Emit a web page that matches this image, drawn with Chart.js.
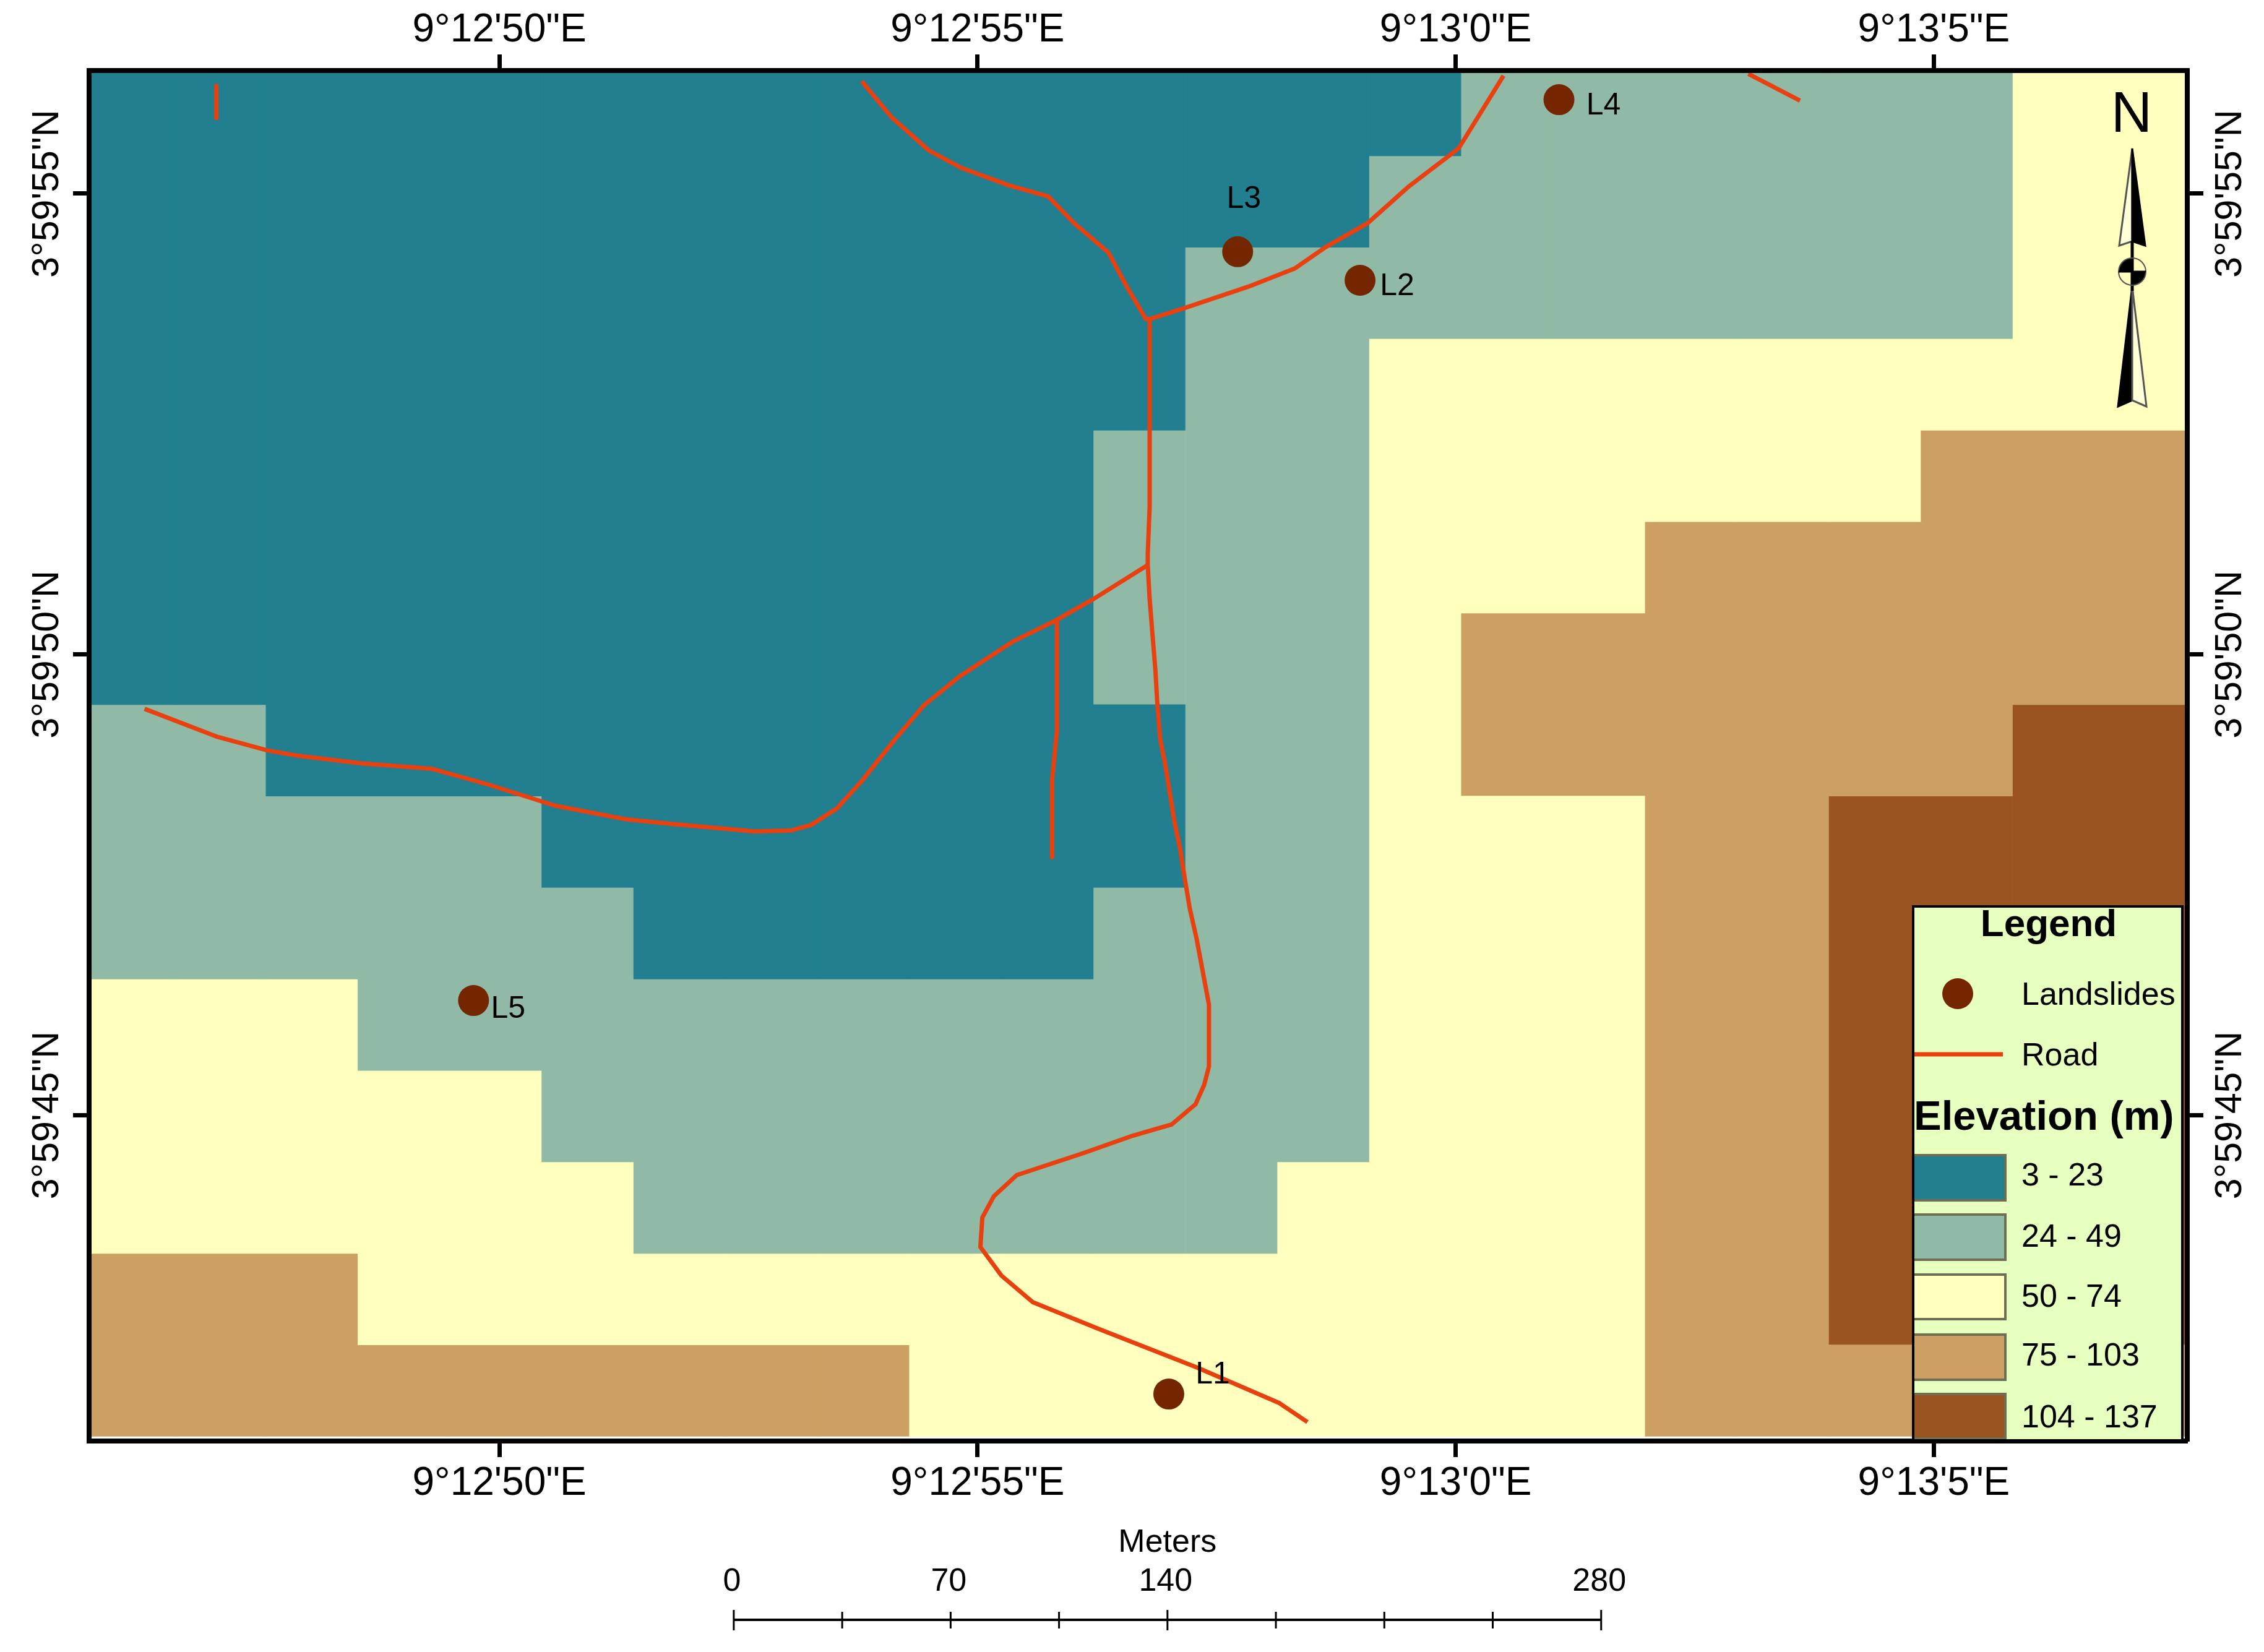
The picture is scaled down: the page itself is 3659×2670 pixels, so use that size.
<!DOCTYPE html>
<html>
<head>
<meta charset="utf-8">
<title>Elevation map</title>
<script src="https://cdn.jsdelivr.net/npm/chart.js@4/dist/chart.umd.min.js"></script>
<style>
html, body { margin: 0; padding: 0; background: #fff; }
canvas { display: block; }
</style>
</head>
<body>
<canvas id="myChart" width="3659" height="2670"></canvas>
<script>
// axis ticks, seconds of the minute
const lonTicks = [50, 55, 60, 65];
const lonLabels = ['9°12\'50"E', '9°12\'55"E', '9°13\'0"E', '9°13\'5"E'];
const latTicks = [55, 50, 45];
const latLabels = ['3°59\'55"N', '3°59\'50"N', '3°59\'45"N'];

// elevation classes
const classLabels = ['3 - 23', '24 - 49', '50 - 74', '75 - 103', '104 - 137'];
const classColors = ['#217F90', '#91BAA6', '#FFFFBE', '#CC9F62', '#995420'];

// raster cells, north to south, one digit = class index
const elevationRows = [
    '00000000000000011111122',
    '00000000000000111111122',
    '00000000000011111111122',
    '00000000000011222222222',
    '00000000000111222222333',
    '00000000000111222333333',
    '00000000000111233333333',
    '11000000000011233333344',
    '11111000000011222334444',
    '11111100000111222334444',
    '22211111111111222334444',
    '22222111111111222334444',
    '22222211111112222334444',
    '33322222222222222334444',
    '33333333322222222333333'
];
const cellLon0 = 45.637;
const cellLonSize = 0.9612;
const cellLat0 = 56.403;
const cellLatSize = 0.9925;

// roads as [lon, lat]
const roadMain = [[56.80,53.64],[56.80,51.60],[56.78,51.09],[56.78,50.97],[56.80,50.60],[56.83,50.21],[56.86,49.83],[56.88,49.47],[56.91,49.08],[56.96,48.82],[57.01,48.50],[57.06,48.18],[57.12,47.88],[57.17,47.55],[57.22,47.24],[57.29,46.92],[57.42,46.20],[57.42,45.53],[57.37,45.33],[57.28,45.12],[57.03,44.90],[56.60,44.77],[56.11,44.59],[55.41,44.35],[55.17,44.12],[55.05,43.89],[55.03,43.57],[55.25,43.26],[55.58,42.97],[56.27,42.68],[57.30,42.26],[58.15,41.88],[58.45,41.67]];
const roadNorthWest = [[53.79,56.22],[54.10,55.83],[54.49,55.47],[54.83,55.28],[55.33,55.09],[55.74,54.97],[56.01,54.68],[56.37,54.36],[56.55,54.01],[56.76,53.64],[56.80,53.64]];
const roadNorthEast = [[56.80,53.64],[57.17,53.76],[57.83,53.99],[58.32,54.19],[58.64,54.42],[59.08,54.68],[59.50,55.07],[60.03,55.49],[60.50,56.28]];
const roadCorner = [[63.06,56.30],[63.60,56.01]];
const roadStub = [[47.04,56.17],[47.04,55.82]];
const roadWest = [[56.78,50.97],[56.21,50.60],[55.80,50.36],[55.37,50.14],[55.06,49.93],[54.81,49.76],[54.44,49.45],[54.13,49.07],[53.80,48.64],[53.53,48.33],[53.26,48.15],[53.05,48.09],[52.67,48.08],[51.81,48.16],[51.33,48.21],[50.58,48.36],[49.88,48.59],[49.29,48.76],[48.54,48.82],[47.90,48.90],[47.57,48.96],[47.04,49.11],[46.29,49.41]];
const roadSpur = [[55.83,50.36],[55.83,49.17],[55.78,48.64],[55.78,47.80]];
const allRoads = [roadMain, roadNorthWest, roadNorthEast, roadCorner, roadStub, roadWest, roadSpur];

// landslides
const slideNames = ['L1', 'L2', 'L3', 'L4', 'L5'];
const slideLon = [57.00, 59.00, 57.72, 61.08, 49.73];
const slideLat = [41.975, 54.06, 54.37, 56.02, 46.245];

// scale bar
const barTicks = [0, 35, 70, 105, 140, 175, 210, 245, 280];
const barLabels = [0, 70, 140, 280];

const ROAD_COLOR = '#E8400F';
const POINT_COLOR = '#732600';
const FONT = '"Liberation Sans"';

function cellDatasets() {
    return classColors.map((color, cls) => {
        const data = [];
        for (let col = 0; col < elevationRows[0].length; col++) {
            let row = 0;
            while (row < elevationRows.length) {
                if (Number(elevationRows[row][col]) !== cls) { row++; continue; }
                let end = row;
                while (end + 1 < elevationRows.length && Number(elevationRows[end + 1][col]) === cls) end++;
                data.push({
                    x: cellLon0 + (col + 0.5) * cellLonSize,
                    y: [cellLat0 - (end + 1) * cellLatSize, cellLat0 - row * cellLatSize]
                });
                row = end + 1;
            }
        }
        return {
            type: 'bar', label: classLabels[cls], data: data, backgroundColor: color,
            grouped: false, barPercentage: 1, categoryPercentage: 1, order: 5
        };
    });
}

function roadDatasets() {
    return allRoads.map(road => ({
        type: 'line', label: 'Road', data: road.map(p => ({ x: p[0], y: p[1] })),
        borderColor: ROAD_COLOR, borderWidth: 7, pointRadius: 0, tension: 0, fill: false,
        borderJoinStyle: 'round', order: 3
    }));
}

const slideDataset = {
    type: 'line', label: 'Landslides', data: slideLon.map((lon, i) => ({ x: lon, y: slideLat[i] })),
    showLine: false, pointRadius: 25, pointBackgroundColor: POINT_COLOR, pointBorderWidth: 0, order: 1
};

function axisX(position, height, padding) {
    return {
        type: 'linear', position: position, min: 45.71, max: 67.65, offset: false,
        afterBuildTicks: s => { s.ticks = lonTicks.map(v => ({ value: v })); },
        afterFit: s => { s.height = height; },
        border: { display: true, color: '#000', width: 8, z: 1 },
        grid: { offset: false, drawOnChartArea: false, color: '#000', tickColor: '#000', tickWidth: 7, tickLength: 26 },
        ticks: {
            color: '#000', autoSkip: false, maxRotation: 0, padding: padding,
            font: { family: FONT, size: 64 },
            callback: (v, i) => lonLabels[i]
        }
    };
}

function axisY(position, width, padding) {
    return {
        type: 'linear', position: position, min: 41.465, max: 56.336,
        afterBuildTicks: s => { s.ticks = latTicks.map(v => ({ value: v })); },
        afterFit: s => { s.width = width; },
        border: { display: true, color: '#000', width: 8, z: 1 },
        grid: { drawOnChartArea: false, color: '#000', tickColor: '#000', tickWidth: 7, tickLength: 26 },
        ticks: {
            color: '#000', autoSkip: false, minRotation: 90, maxRotation: 90, crossAlign: 'center', padding: padding,
            font: { family: FONT, size: 61 },
            callback: (v, i) => latLabels[i]
        }
    };
}

function text(ctx, str, x, y, font, align, baseline) {
    ctx.font = font;
    ctx.textAlign = align || 'left';
    ctx.textBaseline = baseline || 'alphabetic';
    ctx.fillStyle = '#000';
    ctx.fillText(str, x, y);
}

function poly(ctx, pts, fill, stroke) {
    ctx.beginPath();
    pts.forEach((p, i) => i ? ctx.lineTo(p[0], p[1]) : ctx.moveTo(p[0], p[1]));
    ctx.closePath();
    if (fill) { ctx.fillStyle = fill; ctx.fill(); }
    if (stroke) { ctx.strokeStyle = stroke; ctx.lineWidth = 3; ctx.stroke(); }
}

// labels next to the landslide points
const slideLabelPlugin = {
    id: 'slideLabels',
    afterDatasetsDraw(chart) {
        const ctx = chart.ctx;
        const offsets = [[71, -31], [60, 10], [10, -85], [72, 10], [56, 14]];
        const pts = chart.getDatasetMeta(chart.data.datasets.indexOf(slideDataset)).data;
        ctx.save();
        pts.forEach((p, i) => {
            text(ctx, slideNames[i], p.x + offsets[i][0], p.y + offsets[i][1], '50px ' + FONT, 'center', 'middle');
        });
        ctx.restore();
    }
};

const northArrowPlugin = {
    id: 'northArrow',
    afterDraw(chart) {
        const ctx = chart.ctx;
        const cx = 3446;
        ctx.save();
        text(ctx, 'N', cx - 1, 213, '92px ' + FONT, 'center');
        poly(ctx, [[cx, 240], [cx - 21, 397], [cx, 390]], '#FFFFD8', '#555');
        poly(ctx, [[cx, 240], [cx + 21, 397], [cx, 390]], '#000', '#000');
        poly(ctx, [[cx, 463], [cx - 23, 657], [cx, 647]], '#000', '#000');
        poly(ctx, [[cx, 463], [cx + 23, 657], [cx, 647]], '#FFFFD8', '#555');
        ctx.strokeStyle = '#000';
        ctx.lineWidth = 5;
        ctx.beginPath();
        ctx.moveTo(cx, 390);
        ctx.lineTo(cx, 470);
        ctx.stroke();
        ctx.fillStyle = '#000';
        ctx.beginPath();
        ctx.moveTo(cx, 439);
        ctx.arc(cx, 439, 22, Math.PI, Math.PI * 1.5);
        ctx.closePath();
        ctx.fill();
        ctx.beginPath();
        ctx.moveTo(cx, 439);
        ctx.arc(cx, 439, 22, 0, Math.PI * 0.5);
        ctx.closePath();
        ctx.fill();
        ctx.lineWidth = 2;
        ctx.strokeStyle = '#555';
        ctx.beginPath();
        ctx.arc(cx, 439, 22, 0, Math.PI * 2);
        ctx.stroke();
        ctx.strokeStyle = '#000';
        ctx.lineWidth = 3;
        ctx.beginPath();
        ctx.moveTo(cx - 22, 439);
        ctx.lineTo(cx + 22, 439);
        ctx.stroke();
        ctx.restore();
    }
};

const scaleBarPlugin = {
    id: 'scaleBar',
    afterDraw(chart) {
        const ctx = chart.ctx;
        const m = chart.scales.meters;
        const y = 2618;
        ctx.save();
        ctx.strokeStyle = '#000';
        ctx.lineWidth = 4;
        ctx.beginPath();
        ctx.moveTo(m.getPixelForValue(0), y);
        ctx.lineTo(m.getPixelForValue(280), y);
        ctx.stroke();
        ctx.lineWidth = 3;
        barTicks.forEach(v => {
            const major = v % 140 === 0;
            const px = m.getPixelForValue(v);
            ctx.beginPath();
            ctx.moveTo(px, major ? 2602 : 2605);
            ctx.lineTo(px, major ? 2635 : 2632);
            ctx.stroke();
        });
        barLabels.forEach(v => {
            text(ctx, String(v), m.getPixelForValue(v) - 3, 2571, '52px ' + FONT, 'center');
        });
        text(ctx, 'Meters', m.getPixelForValue(140), 2508, '52px ' + FONT, 'center');
        ctx.restore();
    }
};

const legendPlugin = {
    id: 'mapLegend',
    afterDraw(chart) {
        const ctx = chart.ctx;
        const left = 3092, right = 3527, top = 1465, bottom = 2328;
        const swatchY = [1867, 1963, 2060, 2157, 2253];
        const swatchH = [73, 73, 72, 73, 72];
        const labelY = [1916, 2015, 2112, 2207, 2307];
        ctx.save();
        ctx.fillStyle = '#E6FFBE';
        ctx.fillRect(left, top, right - left, bottom - top);
        text(ctx, 'Legend', 3311, 1513, 'bold 62px ' + FONT, 'center');
        ctx.fillStyle = POINT_COLOR;
        ctx.beginPath();
        ctx.arc(3164, 1606, 25, 0, Math.PI * 2);
        ctx.fill();
        text(ctx, 'Landslides', 3267, 1624, '52px ' + FONT);
        ctx.strokeStyle = ROAD_COLOR;
        ctx.lineWidth = 7;
        ctx.beginPath();
        ctx.moveTo(left, 1704);
        ctx.lineTo(3237, 1704);
        ctx.stroke();
        text(ctx, 'Road', 3267, 1722, '52px ' + FONT);
        text(ctx, 'Elevation (m)', 3093, 1826, 'bold 67px ' + FONT);
        classColors.forEach((color, i) => {
            ctx.fillStyle = color;
            ctx.fillRect(left, swatchY[i], 3241 - left, swatchH[i]);
            ctx.strokeStyle = '#6E6E55';
            ctx.lineWidth = 4;
            ctx.strokeRect(left, swatchY[i], 3241 - left, swatchH[i]);
            text(ctx, classLabels[i], 3267, labelY[i], '52px ' + FONT);
        });
        ctx.strokeStyle = '#000';
        ctx.lineWidth = 4;
        ctx.strokeRect(left, top, right - left, bottom - top);
        ctx.restore();
    }
};

const ctx = document.getElementById('myChart');
new Chart(ctx, {
    type: 'bar',
    data: {
        datasets: cellDatasets().concat(roadDatasets(), [slideDataset])
    },
    options: {
        responsive: false,
        animation: false,
        devicePixelRatio: 1,
        layout: { padding: 0 },
        events: [],
        plugins: { legend: { display: false }, tooltip: { enabled: false } },
        scales: {
            x: axisX('bottom', 341, 5),
            x2: axisX('top', 114, 0),
            y: axisY('left', 144, -94.5),
            y2: axisY('right', 124, -91.5),
            meters: { type: 'linear', position: 'bottom', display: false, offset: false, min: -208.1, max: 469.2 }
        }
    },
    plugins: [slideLabelPlugin, northArrowPlugin, scaleBarPlugin, legendPlugin]
});
</script>
</body>
</html>
